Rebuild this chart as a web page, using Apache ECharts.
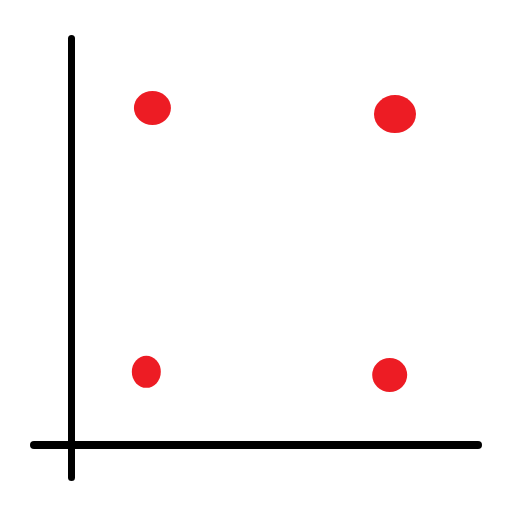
<!DOCTYPE html>
<html>
<head>
<meta charset="utf-8">
<script src="https://cdn.jsdelivr.net/npm/echarts@6/dist/echarts.min.js"></script>
<style>html,body{margin:0;padding:0;background:#fff}#c{width:512px;height:512px}</style>
</head>
<body>
<div id="c"></div>
<script>
var xValues = [2.00, 7.96, 1.85, 7.83];
var yValues = [8.29, 8.14, 1.80, 1.72];

var dotSizes = [[37, 34], [42, 38], [29, 32], [35, 34]];

var points = xValues.map(function (x, i) {
  return { value: [x, yValues[i]], symbolSize: dotSizes[i] };
});

var chart = echarts.init(document.getElementById('c'), null, { renderer: 'canvas' });
chart.setOption({
  animation: false,
  backgroundColor: '#ffffff',
  grid: { left: 34, right: 34, top: 38.5, bottom: 34.5 },
  xAxis: {
    type: 'value', min: -0.91, max: 10,
    axisLine: { show: true, onZero: true, lineStyle: { color: '#000', width: 8, cap: 'round' } },
    axisTick: { show: false }, axisLabel: { show: false }, splitLine: { show: false }
  },
  yAxis: {
    type: 'value', min: -0.80, max: 10,
    axisLine: { show: true, onZero: true, lineStyle: { color: '#000', width: 7, cap: 'round' } },
    axisTick: { show: false }, axisLabel: { show: false }, splitLine: { show: false }
  },
  series: [{
    type: 'scatter',
    symbol: 'circle',
    itemStyle: { color: '#ED1C24', opacity: 1 },
    data: points
  }]
});
</script>
</body>
</html>
